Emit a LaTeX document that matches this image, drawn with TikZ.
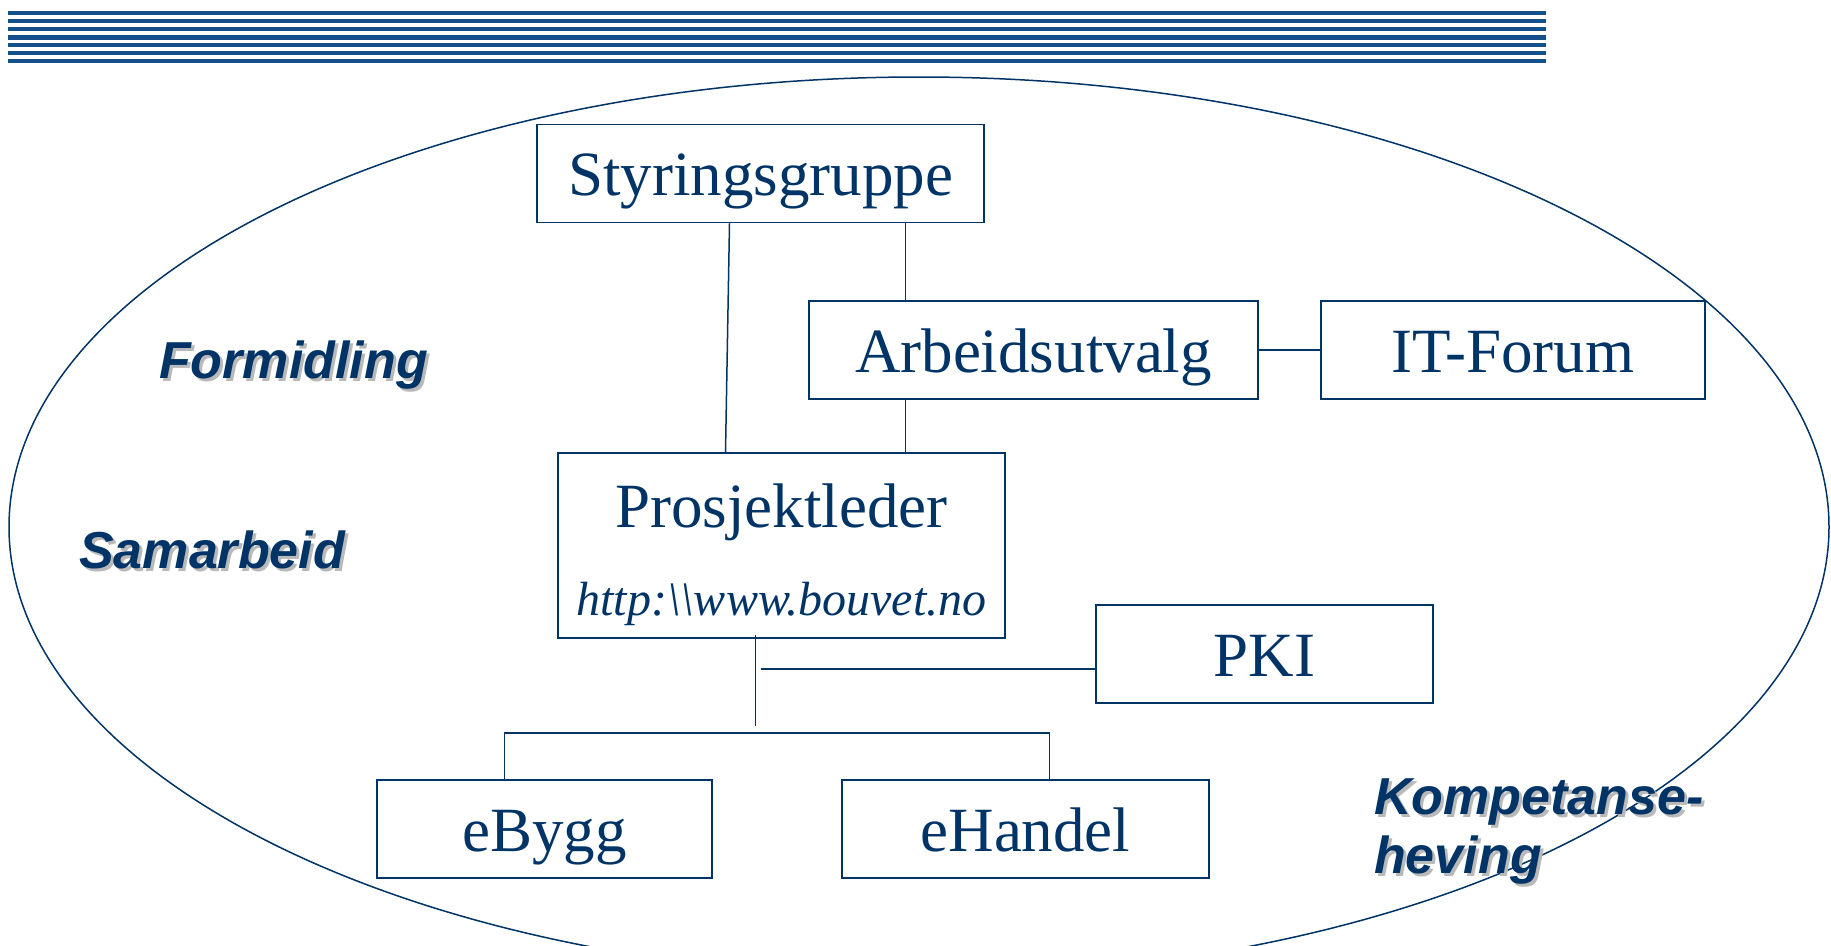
\documentclass[tikz,border=0pt]{standalone}
\usepackage{fontspec}
\setmainfont{Liberation Serif}
\newfontfamily\labelfont{Liberation Sans}
\usepackage{xcolor}
\definecolor{navy}{RGB}{0,51,102}
\definecolor{stripe}{RGB}{21,80,138}
\definecolor{shade}{RGB}{185,185,185}
\usetikzlibrary{calc}

\begin{document}
\begin{tikzpicture}[x=1pt,y=-1pt,
    every node/.style={navy,inner sep=0pt},
    box/.style={draw=navy,line width=1.5pt,minimum width=#1,minimum height=98pt,
        text height=44pt,text depth=0pt,font=\fontsize{63}{70}\selectfont},
    lbl/.style={anchor=west,align=left,
        font=\labelfont\fontsize{52}{59}\selectfont\bfseries\itshape},
    lblshadow/.style={lbl,text=shade,xshift=3pt,yshift=-3pt},
    wire/.style={navy,line width=1.5pt}]
    \clip (0,0) rectangle (1831,945);

    % header stripes
    \foreach \y/\w in {13.3/4,21.3/4,29.3/4,37.3/5,45.3/4,53.3/4,61.3/4}
        \draw[stripe,line width=\w pt] (8,\y) -- (1546,\y);

    \draw[wire] (919,527) ellipse [x radius=910, y radius=450];

    % boxes
    \node[box=447pt] (sg) at (760.5,173.5) {Styringsgruppe};
    \node[box=449pt] (au) at (1033.5,350) {Arbeidsutvalg};
    \node[box=384pt] (it) at (1513,350) {IT-Forum};
    \node[box=447pt,minimum height=185pt] (pl) at (781.5,545.5) {};
    \node[font=\fontsize{63}{70}\selectfont] (pltxt) at (781.5,512) {Prosjektleder};
    \node[font=\fontsize{48}{52}\selectfont\itshape] (plurl) at (781.5,604)
        {http:\textbackslash\textbackslash www.bouvet.no};
    \node[box=337pt] (pki) at (1264.5,654) {PKI};
    \node[box=335pt] (eb) at (544.5,829) {eBygg};
    \node[box=367pt] (eh) at (1025.5,829) {eHandel};

    % connectors
    \draw[wire] ([xshift=-31pt]sg.south) -- ([xshift=-56pt]pl.north);
    \draw[wire] ([xshift=145pt]sg.south) -- ([xshift=-128pt]au.north);
    \draw[wire] ([xshift=-128pt]au.south) -- ([xshift=124pt]pl.north);
    \draw[wire] (au.east) -- (it.west);

    \coordinate (stem) at ([xshift=-26pt,yshift=4pt]pl.south);
    \coordinate (bus) at (0,733);
    \coordinate (tap) at (761,669);
    \draw[wire] (stem) -- (stem |- 0,726);
    \draw[wire] (tap) -- (tap -| pki.west);

    \coordinate (bl) at ([xshift=-40pt]eb.north);
    \coordinate (br) at ([xshift=24pt]eh.north);
    \draw[wire] (bl) -- (bl |- bus) -- (br |- bus) -- (br);

    % side labels
    \node[lblshadow] at (159,365) {Formidling};
    \node[lbl] (form) at (159,365) {Formidling};
    \node[lblshadow] at (79,550) {Samarbeid};
    \node[lbl] (sam) at (79,550) {Samarbeid};
    \node[lblshadow] at (1374,831) {Kompetanse-\\heving};
    \node[lbl] (komp) at (1374,831) {Kompetanse-\\heving};
\end{tikzpicture}
\end{document}
